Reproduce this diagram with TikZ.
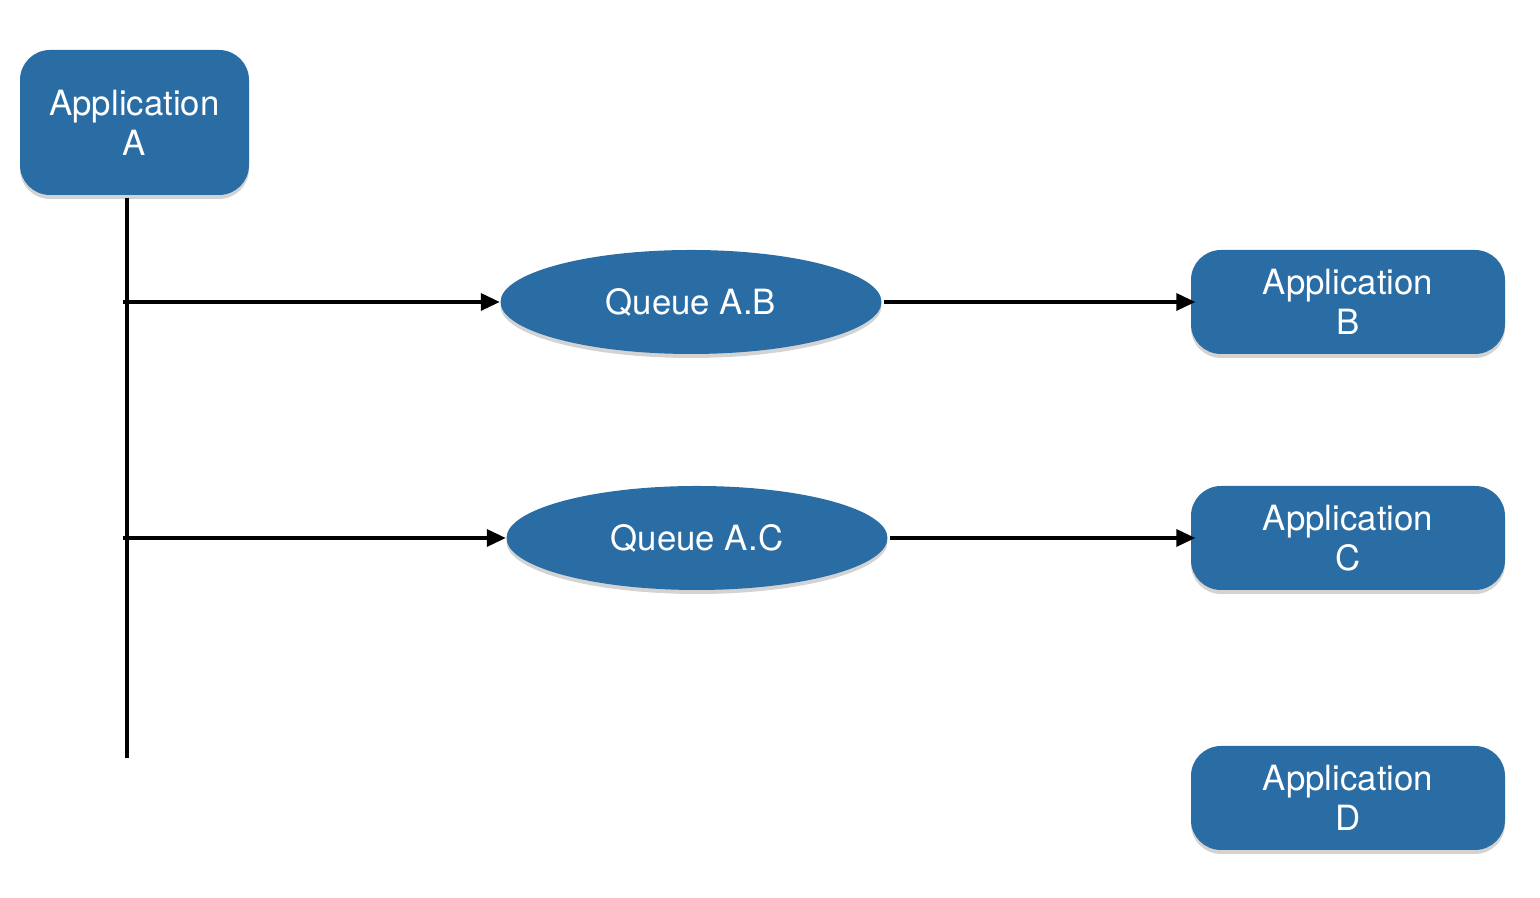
\documentclass[tikz,border=0pt]{standalone}
\usepackage{fontspec}
\setmainfont{TeX Gyre Heros}
\usetikzlibrary{arrows.meta,shapes.geometric,shadows}

\definecolor{appblue}{RGB}{42,108,164}

\tikzset{
	box/.style={fill=appblue, rounded corners=0.3cm, text=white, align=center,
		inner sep=0pt, font=\fontsize{9.9}{11.4}\selectfont,
		drop shadow={shadow xshift=0pt, shadow yshift=-0.04cm, opacity=0.35}},
	appsmall/.style={box, minimum width=3.14cm, minimum height=1.04cm},
	queue/.style={ellipse, fill=appblue, text=white, inner sep=0pt,
		minimum width=3.81cm, minimum height=1.04cm, font=\fontsize{9.9}{11.4}\selectfont,
		drop shadow={shadow xshift=0pt, shadow yshift=-0.04cm, opacity=0.35}},
	link/.style={line width=0.035cm, -{Triangle[length=0.19cm,width=0.17cm]}}
}

\begin{document}
\begin{tikzpicture}
			%%%%% START %%%%%
			\useasboundingbox (0, 0) rectangle (15.4, 8.98);
			
			\node[box, minimum width=2.29cm, minimum height=1.45cm] (appa) at (1.345, 7.755) {Application\\A};
			
			\node[queue] (qab) at (6.91, 5.96) {Queue A.B};
			\node[queue] (qac) at (6.97, 3.60) {Queue A.C};
			
			\node[appsmall] (appb) at (13.48, 5.96) {Application\\B};
			\node[appsmall] (appc) at (13.48, 3.60) {Application\\C};
			\node[appsmall] (appd) at (13.48, 1.00) {Application\\D};
			
			% bus out of A
			\coordinate (top) at (1.27, 7.00);
			\coordinate (bottom) at (1.27, 1.40);
			\draw[line width=0.035cm] (top) -- (bottom);
			
			\coordinate (forkb) at (1.23, 5.96);
			\coordinate (forkc) at (1.23, 3.60);
			\draw[link] (forkb) -- (forkb -| qab.west);
			\draw[link] (forkc) -- (forkc -| qac.west);
			
			\draw[link, shorten <=0.02cm, shorten >=-0.05cm] (qab.east) -- (appb.west);
			\draw[link, shorten <=0.02cm, shorten >=-0.05cm] (qac.east) -- (appc.west);
			
			%%%%% END %%%%%
\end{tikzpicture}
\end{document}
